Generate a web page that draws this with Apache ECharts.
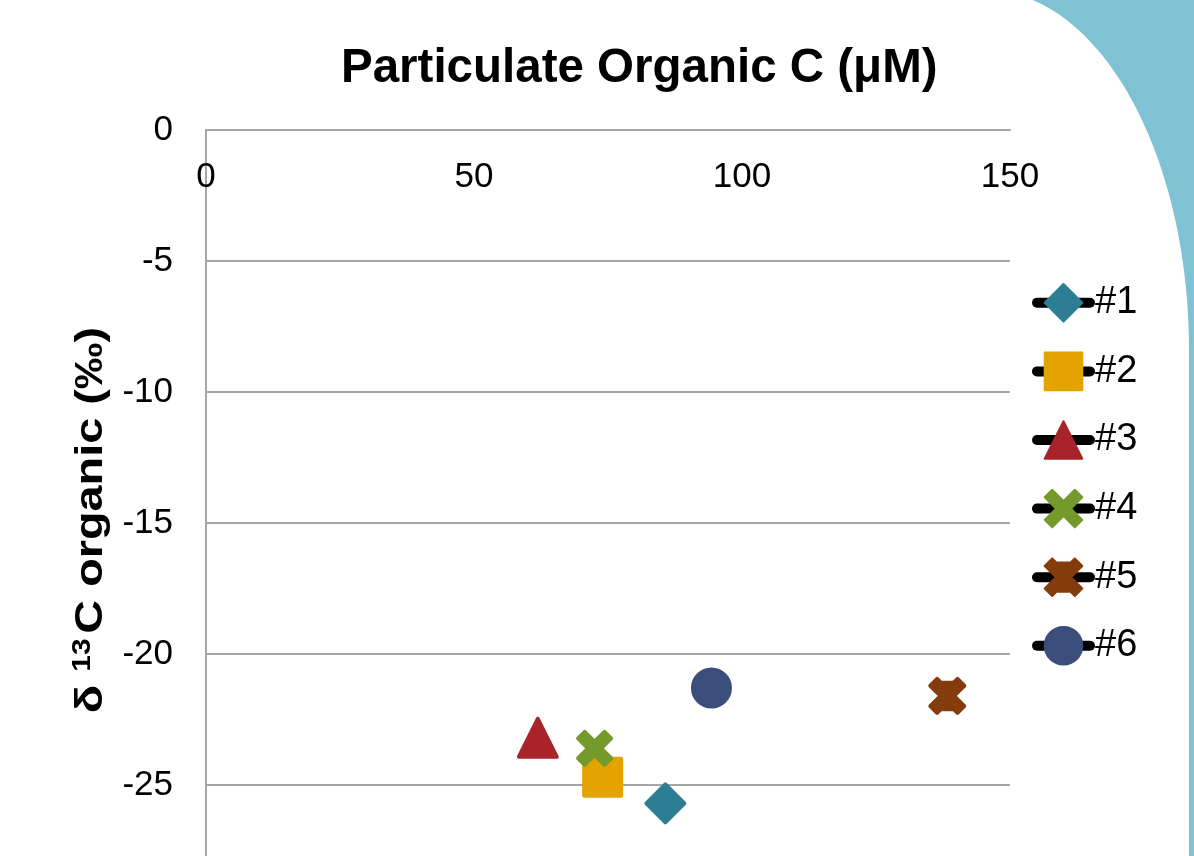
<!DOCTYPE html>
<html>
<head>
<meta charset="utf-8">
<script src="https://cdn.jsdelivr.net/npm/echarts@6/dist/echarts.min.js"></script>
<style>
  html, body { margin: 0; padding: 0; background: #ffffff; }
  #chart { width: 1194px; height: 856px; }
</style>
</head>
<body>
<div id="chart"></div>
<script>
// Sample stations: particulate organic carbon (µM) vs. δ13C of organic matter (‰)
const stations = ['#1', '#2', '#3', '#4', '#5', '#6'];
const pocValues = [85.7, 74.0, 61.9, 72.5, 138.3, 94.3];
const d13cValues = [-25.7, -24.7, -23.2, -23.6, -21.6, -21.3];
const xTicks = [0, 50, 100, 150];
const yTicks = [0, -5, -10, -15, -20, -25, -30];

const markerColors = ['#2e7e93', '#e3a300', '#a8232a', '#739a2b', '#843c0c', '#3b4d7b'];
const crossPath = 'path://M2,0L5,3L8,0L10,2L7,5L10,8L8,10L5,7L2,10L0,8L3,5L0,2Z';
const starPath = 'path://M0,2L2,0L3.5,1.5L3.5,1.1L6.5,1.1L6.5,1.5L8,0L10,2L7,5L10,8L8,10L6.5,8.5L6.5,8.9L3.5,8.9L3.5,8.5L2,10L0,8L3,5Z';
const markerShapes = ['diamond', 'rect', 'triangle', crossPath, starPath, 'circle'];
const markerSizes = [38, 37, 38, 33, 34, 37];

// Decorative teal frame corner in the upper right
function cornerPolygon() {
  const cx = 985, cy = 350, rx = 204, ry = 360;
  const pts = [[1194, 0]];
  const tMax = Math.asin(cy / ry);
  const steps = 60;
  for (let i = 0; i <= steps; i++) {
    const t = tMax * (1 - i / steps);
    pts.push([cx + rx * Math.cos(t), cy - ry * Math.sin(t)]);
  }
  pts.push([1189, 856], [1194, 856]);
  return pts;
}

const font = '"Liberation Sans", Arial, sans-serif';
const gray = '#a6a6a6';

const series = stations.map((name, i) => ({
  name: name,
  type: 'line',
  data: [[pocValues[i], d13cValues[i]]],
  symbol: markerShapes[i],
  symbolSize: markerSizes[i],
  showSymbol: true,
  lineStyle: { color: '#000000', width: 10 },
  itemStyle: {
    color: markerColors[i],
    borderColor: markerColors[i],
    borderWidth: 4,
    borderJoin: 'round'
  },
  z: 3
}));

const chart = echarts.init(document.getElementById('chart'), null, { renderer: 'canvas' });
chart.setOption({
  animation: false,
  backgroundColor: '#ffffff',
  textStyle: { fontFamily: font },
  title: {
    text: 'Particulate Organic C (μM)',
    left: 336,
    top: 40,
    textStyle: { fontFamily: font, fontSize: 47.5, fontWeight: 'bold', color: '#000000' }
  },
  graphic: [{
    type: 'polygon',
    z: -10,
    silent: true,
    shape: { points: cornerPolygon() },
    style: { fill: '#7fc2d4' }
  }, {
    // vertical axis title, drawn along the left edge of the plot
    type: 'text',
    x: 91,
    y: 520,
    rotation: Math.PI / 2,
    scaleX: 1.2,
    silent: true,
    style: {
      text: '{a|δ }{s|13}{a|C organic (‰)}',
      align: 'center',
      verticalAlign: 'middle',
      rich: {
        a: { fontFamily: font, fontSize: 39, fontWeight: 'bold', fill: '#000000' },
        s: { fontFamily: font, fontSize: 25, fontWeight: 'bold', fill: '#000000', verticalAlign: 'top', padding: [0, 4, 15, 0] }
      }
    }
  }],
  grid: { left: 206, right: 184, top: 130, bottom: -60, containLabel: false, outerBoundsMode: 'none' },
  legend: {
    orient: 'vertical',
    left: 1027,
    top: 278,
    itemWidth: 53,
    itemHeight: 47,
    itemGap: 29,
    data: stations,
    textStyle: { fontFamily: font, fontSize: 38, color: '#000000', padding: [0, 0, 0, 0] },
    lineStyle: { width: 10, color: '#000000', cap: 'round' }
  },
  xAxis: {
    type: 'value',
    position: 'top',
    min: xTicks[0],
    max: xTicks[xTicks.length - 1],
    interval: 50,
    axisLine: { show: true, lineStyle: { color: gray, width: 2 } },
    axisTick: { show: false },
    splitLine: { show: false },
    axisLabel: {
      inside: true,
      margin: 30,
      fontSize: 35,
      color: '#000000',
      fontFamily: font
    }
  },
  yAxis: {
    type: 'value',
    min: yTicks[yTicks.length - 1],
    max: yTicks[0],
    interval: 5,
    axisLine: { show: true, onZero: false, lineStyle: { color: gray, width: 2 } },
    axisTick: { show: false },
    splitLine: { show: true, lineStyle: { color: gray, width: 2 } },
    axisLabel: { margin: 33, fontSize: 35, color: '#000000', fontFamily: font }
  },
  series: series
});
</script>
</body>
</html>
